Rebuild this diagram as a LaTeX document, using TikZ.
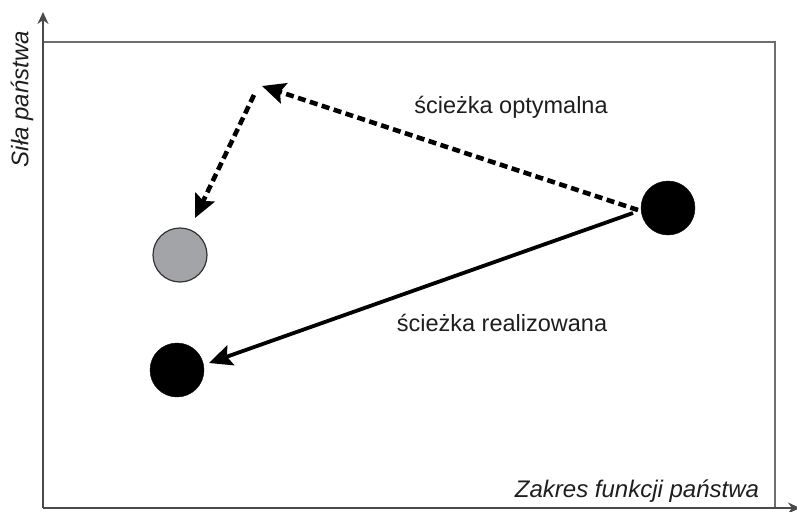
\documentclass[tikz,border=0pt]{standalone}
\usepackage{fontspec}
\setmainfont{Liberation Sans}
\usetikzlibrary{arrows.meta}
\definecolor{axisgray}{HTML}{4A4A4A}
\definecolor{dotgray}{HTML}{A2A4A8}
\definecolor{inkgray}{HTML}{1E1E1E}
\tikzset{
  axisline/.style={draw=axisgray, line width=1.8pt},
  framebox/.style={draw=axisgray!80, line width=1.6pt},
  statedot/.style={circle, minimum size=54pt, inner sep=0pt, fill=black, draw=black},
  greydot/.style={circle, minimum size=54pt, inner sep=0pt, fill=dotgray, draw=black!80, line width=1.2pt},
  pathlabel/.style={text=inkgray, font=\fontsize{23.5}{27}\selectfont, inner sep=0pt},
  axislabel/.style={text=inkgray, font=\fontsize{24}{28}\selectfont\itshape, inner sep=0pt},
  bigtip/.style={-{Stealth[length=23pt,width=21pt,inset=4pt]}},
  optpath/.style={bigtip, line width=4.6pt, dash pattern=on 8pt off 4.5pt},
  realpath/.style={bigtip, line width=3.8pt},
}
\begin{document}
\begin{tikzpicture}[x=1pt,y=-1pt]
  \useasboundingbox (0,0) rectangle (797,511);

  % axes and outer frame
  \coordinate (o) at (43,508);
  \coordinate (ytop) at (43,12);
  \coordinate (xend) at (800,508);
  \draw[framebox] (43,42) -- (775,42) -- (775,508);
  \draw[axisline, -{Stealth[length=12pt,width=11pt]}] (o) -- (ytop);
  \draw[axisline, -{Stealth[length=12pt,width=11pt]}] (o) -- (xend);

  \node[axislabel, rotate=90] (ylab) at (22,99) {Siła państwa};
  \node[axislabel] (xlab) at (637,491) {Zakres funkcji państwa};

  % states
  \node[statedot] (now) at (668,208) {};
  \node[greydot] (opt) at (180,255) {};
  \node[statedot] (real) at (177,370) {};

  % path end points
  \coordinate (s1) at (638,210);
  \coordinate (turn) at (262,86);
  \coordinate (turn2) at (254,95);
  \coordinate (e1) at (195,218);
  \coordinate (s2) at (633,213);
  \coordinate (e2) at (209,363);

  \draw[optpath] (s1) -- (turn);
  \draw[optpath] (turn2) -- (e1);
  \draw[realpath] (s2) -- (e2);

  \node[pathlabel] (lopt) at (511,107) {ścieżka optymalna};
  \node[pathlabel] (lreal) at (502,323) {ścieżka realizowana};
\end{tikzpicture}
\end{document}
